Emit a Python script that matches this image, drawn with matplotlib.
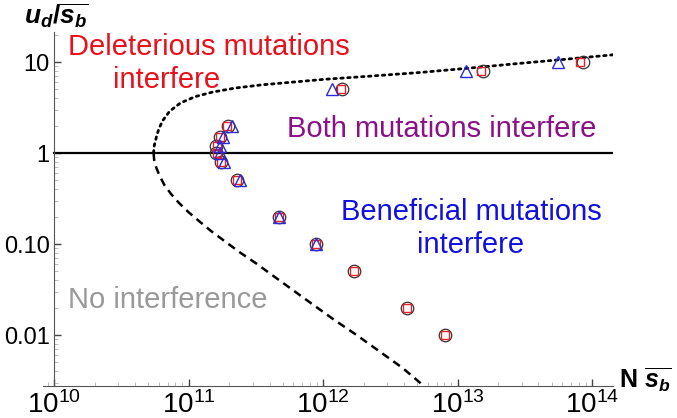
import math
import matplotlib
matplotlib.use("Agg")
import matplotlib.pyplot as plt
from matplotlib.ticker import FixedLocator, LogLocator, NullFormatter

plt.rcParams['font.family'] = 'Liberation Sans'
plt.rcParams['mathtext.fontset'] = 'custom'
plt.rcParams['mathtext.it'] = 'Liberation Sans:italic:bold'
plt.rcParams['mathtext.rm'] = 'Liberation Sans:bold'
plt.rcParams['mathtext.bf'] = 'Liberation Sans:bold'
plt.rcParams['mathtext.sf'] = 'Liberation Sans'

# simulation points: u_d / mean s_b  vs  N * mean s_b
ud_sb = [10, 8, 5, 2, 1.5, 1.2, 1.0, 0.8, 0.5, 0.2, 0.1, 0.05, 0.02, 0.01]
circle_x = [8.5e13, 1.55e13, 1.38e12, 1.95e11, 1.7e11, 1.6e11, 1.6e11, 1.75e11,
            2.3e11, 4.7e11, 8.9e11, 1.7e12, 4.2e12, 8.1e12]
square_x = [8.2e13, 1.5e13, 1.35e12, 1.93e11, 1.7e11, 1.62e11, 1.62e11, 1.75e11,
            2.3e11, 4.7e11, 8.9e11, 1.7e12, 4.2e12, 8.1e12]
tri_y = [10, 8, 5, 2, 1.5, 1.2, 1.0, 0.8, 0.5, 0.2, 0.1]
tri_x = [5.6e13, 1.15e13, 1.17e12, 2.1e11, 1.8e11, 1.7e11, 1.7e11, 1.85e11,
         2.4e11, 4.7e11, 8.8e11]

# boundaries (log10 values)
upper_lx = [10.74, 10.745, 10.76, 10.78, 10.81, 10.86, 10.94, 11.05, 11.18, 11.35,
            11.55, 11.78, 12.01, 12.35, 12.72, 13.1, 13.46, 13.8, 14.16]
upper_ly = [0.0, 0.08, 0.17, 0.27, 0.36, 0.46, 0.55, 0.62, 0.67, 0.715,
            0.75, 0.78, 0.81, 0.845, 0.885, 0.935, 0.985, 1.03, 1.08]
lower_lx = [10.74, 10.745, 10.76, 10.785, 10.82, 10.87, 10.93, 11.0, 11.08, 11.17,
            11.27, 11.38, 11.5, 11.63, 11.77, 11.92, 12.08, 12.25, 12.42, 12.59, 12.75]
lower_ly = [0.0, -0.08, -0.16, -0.25, -0.35, -0.45, -0.55, -0.65, -0.75, -0.86,
            -0.97, -1.09, -1.21, -1.35, -1.5, -1.66, -1.83, -2.0, -2.18, -2.36, -2.56]

x_ticks = [1e10, 1e11, 1e12, 1e13, 1e14]
y_ticks = [0.01, 0.1, 1, 10]
y_tick_labels = ["0.01", "0.10", "1", "10"]

W, H = 677, 418


def px(x, y):
    # pixel position (from top-left) -> figure fraction
    return x / W, 1 - y / H


fig = plt.figure(figsize=(W / 100, H / 100), dpi=100)
ax = fig.add_axes([43 / W, 32 / H, 570 / W, 354 / H])
ax.set_xscale('log')
ax.set_yscale('log')
ax.set_xlim(10 ** 9.918, 10 ** 14.156)
ax.set_ylim(10 ** -2.56, 10 ** 1.33)

ax.plot([10 ** v for v in upper_lx], [10 ** v for v in upper_ly], color='black',
        lw=2.0, linestyle=(0, (0.9, 1.6)), dash_capstyle='round')
ax.plot([10 ** v for v in lower_lx], [10 ** v for v in lower_ly], color='black',
        lw=1.8, linestyle=(0, (3.2, 2.2)))
ax.plot([1e10, 10 ** 14.156], [1, 1], color='black', lw=1.6)

ax.plot(circle_x, ud_sb, 'o', ms=9, mfc='none', mec='#333333', mew=0.9)
ax.plot(square_x, ud_sb, 's', ms=6, mfc='none', mec='#e8202a', mew=1.0)
ax.plot(tri_x, tri_y, '^', ms=8, mfc='none', mec='#2a2ad8', mew=1.0)

for s in ['top', 'right']:
    ax.spines[s].set_visible(False)
ax.spines['left'].set_position(('data', 1e10))
ax.spines['left'].set_color('#555555')
ax.spines['bottom'].set_color('#555555')

ax.xaxis.set_major_locator(FixedLocator(x_ticks))
ax.set_xticklabels([r'$\mathsf{10^{%d}}$' % round(math.log10(t)) for t in x_ticks])
ax.xaxis.set_minor_locator(LogLocator(base=10, subs=range(2, 10), numticks=20))
ax.xaxis.set_minor_formatter(NullFormatter())
ax.yaxis.set_major_locator(FixedLocator(y_ticks))
ax.set_yticklabels(y_tick_labels)
ax.yaxis.set_minor_locator(LogLocator(base=10, subs=range(2, 10), numticks=20))
ax.yaxis.set_minor_formatter(NullFormatter())
ax.tick_params(which='major', direction='in', length=5, width=1, color='#444444')
ax.tick_params(which='minor', direction='in', length=3, width=0.7, color='#bbbbbb')
ax.tick_params(axis='x', labelsize=20, pad=4)
ax.tick_params(axis='y', labelsize=17, pad=3)

fig.text(*px(68, 55), "Deleterious mutations", color='#e8101a',
         fontsize=21, ha='left', va='baseline')
fig.text(*px(167, 88), "interfere", color='#e8101a',
         fontsize=21, ha='center', va='baseline')
fig.text(*px(287, 137), "Both mutations interfere", color='#8a108a',
         fontsize=21, ha='left', va='baseline')
fig.text(*px(471, 220), "Beneficial mutations", color='#1010e0',
         fontsize=21, ha='center', va='baseline')
fig.text(*px(471, 253), "interfere", color='#1010e0',
         fontsize=21, ha='center', va='baseline')
fig.text(*px(68, 308), "No interference", color='#999999',
         fontsize=21, ha='left', va='baseline')

fig.text(*px(56, 16), r'$u_d/\overline{s_b}$', fontsize=19,
         ha='center', va='center')
fig.text(*px(619, 388), r'$\mathrm{N}\ \overline{s_b}$', fontsize=18,
         ha='left', va='baseline')

fig.savefig("out.png", dpi=100)
